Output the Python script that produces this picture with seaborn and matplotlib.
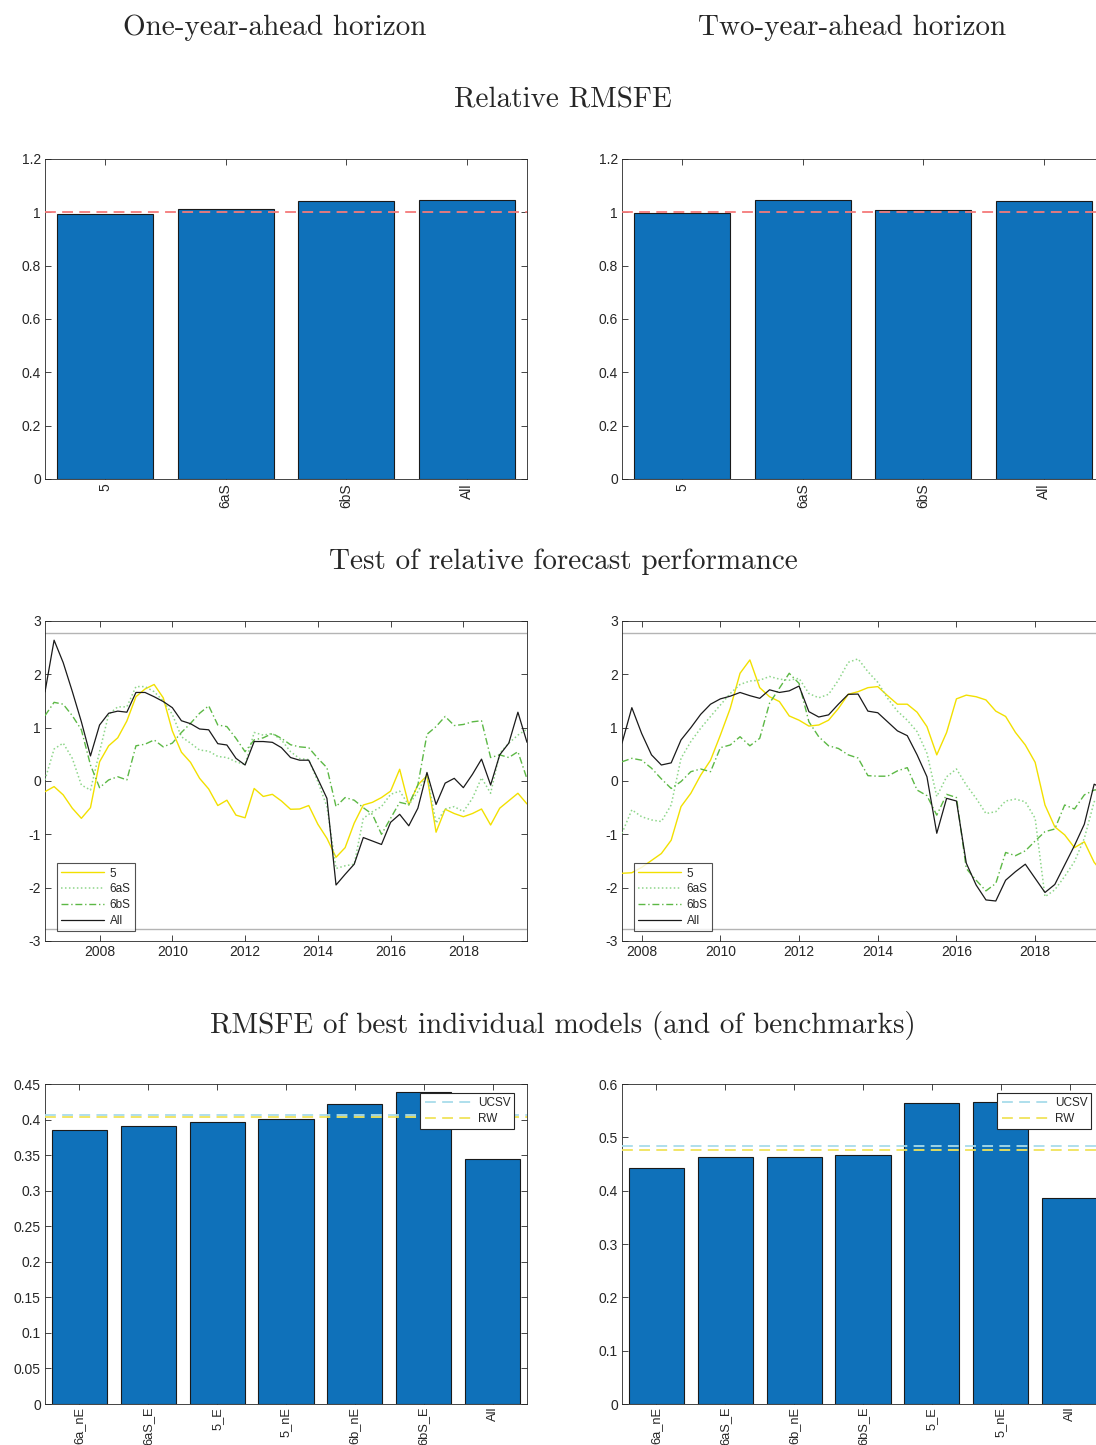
import numpy as np
import pandas as pd
import matplotlib
matplotlib.use("Agg")
import matplotlib.pyplot as plt
import seaborn as sns

# ---------------- data ----------------
models_top = ["5", "6aS", "6bS", "All"]
rel_rmsfe_h1 = [0.995, 1.014, 1.041, 1.0475]
rel_rmsfe_h2 = [0.997, 1.0475, 1.0075, 1.044]

t_h1 = np.arange(54) * 0.25 + 2006.5
t_h2 = np.arange(50) * 0.25 + 2007.5

s5_h1 = [-0.20, -0.105, -0.26, -0.51, -0.70, -0.50, 0.36, 0.66, 0.81, 1.125, 1.58, 1.725, 1.81, 1.56,
         0.94, 0.54, 0.35, 0.05, -0.15, -0.46, -0.36, -0.64, -0.69, -0.14, -0.29, -0.25, -0.375, -0.53,
         -0.525, -0.46, -0.81, -1.075, -1.43, -1.25, -0.79, -0.45, -0.40, -0.31, -0.19, 0.22, -0.45,
         -0.075, 0.10, -0.96, -0.53, -0.61, -0.67, -0.61, -0.525, -0.825, -0.51, -0.37, -0.23, -0.43]
s6aS_h1 = [0.02, 0.60, 0.71, 0.425, -0.075, -0.17, 0.55, 1.25, 1.39, 1.39, 1.77, 1.77, 1.675, 1.50,
           1.25, 0.83, 0.71, 0.58, 0.56, 0.46, 0.44, 0.36, 0.31, 0.91, 0.86, 0.89, 0.77, 0.55, 0.42,
           0.40, -0.01, -0.48, -1.64, -1.59, -1.56, -0.70, -0.575, -0.48, -0.25, -0.19, -0.45, -0.20,
           0.125, -0.79, -0.525, -0.48, -0.575, -0.325, 0.06, -0.23, 0.52, 0.71, 0.86, 0.975]
s6bS_h1 = [1.225, 1.475, 1.44, 1.225, 0.96, 0.30, -0.125, 0.02, 0.08, 0.02, 0.66, 0.69, 0.77, 0.64,
           0.71, 0.91, 1.08, 1.27, 1.41, 1.05, 1.02, 0.80, 0.55, 0.77, 0.81, 0.89, 0.80, 0.68, 0.64,
           0.625, 0.425, 0.25, -0.48, -0.31, -0.36, -0.50, -0.625, -1.0, -0.70, -0.40, -0.44, -0.075,
           0.875, 1.02, 1.21, 1.04, 1.06, 1.11, 1.13, 0.44, 0.49, 0.44, 0.55, 0.04]
sAll_h1 = [1.67, 2.64, 2.22, 1.68, 1.11, 0.47, 1.05, 1.27, 1.31, 1.29, 1.66, 1.66, 1.58, 1.49, 1.375,
           1.13, 1.075, 0.975, 0.96, 0.70, 0.675, 0.425, 0.30, 0.74, 0.74, 0.725, 0.625, 0.44, 0.39,
           0.39, 0.04, -0.325, -1.95, -1.75, -1.56, -1.06, -1.125, -1.19, -0.775, -0.625, -0.84, -0.51,
           0.16, -0.44, -0.04, 0.05, -0.125, 0.125, 0.41, -0.075, 0.49, 0.71, 1.29, 0.725]

s5_h2 = [-1.73, -1.72, -1.62, -1.49, -1.36, -1.11, -0.48, -0.23, 0.11, 0.39, 0.86, 1.36, 2.02, 2.27,
         1.75, 1.58, 1.49, 1.22, 1.14, 1.03, 1.05, 1.14, 1.36, 1.625, 1.675, 1.75, 1.77, 1.60, 1.44,
         1.44, 1.29, 1.02, 0.49, 0.91, 1.54, 1.61, 1.58, 1.52, 1.31, 1.21, 0.91, 0.675, 0.35, -0.45,
         -0.86, -1.01, -1.25, -1.14, -1.525, -1.75]
s6aS_h2 = [-0.98, -0.54, -0.67, -0.73, -0.76, -0.45, 0.425, 0.74, 0.99, 1.21, 1.425, 1.64, 1.81, 1.875,
           1.89, 1.96, 1.91, 1.89, 1.925, 1.64, 1.56, 1.625, 1.89, 2.225, 2.29, 2.05, 1.85, 1.55, 1.31,
           1.14, 0.925, 0.52, -0.29, 0.08, 0.225, -0.075, -0.325, -0.61, -0.575, -0.375, -0.34, -0.39,
           -0.70, -2.17, -2.04, -1.79, -1.51, -1.075, -0.39, -0.20]
s6bS_h2 = [0.36, 0.425, 0.39, 0.24, 0.04, -0.14, -0.01, 0.175, 0.225, 0.175, 0.625, 0.675, 0.83, 0.66,
           0.80, 1.46, 1.74, 2.02, 1.83, 1.11, 0.83, 0.66, 0.61, 0.49, 0.43, 0.10, 0.09, 0.09, 0.19,
           0.25, -0.17, -0.275, -0.64, -0.25, -0.31, -1.64, -1.86, -2.06, -1.92, -1.34, -1.40, -1.31,
           -1.125, -0.95, -0.90, -0.45, -0.525, -0.26, -0.17, -0.15]
sAll_h2 = [0.71, 1.375, 0.89, 0.49, 0.30, 0.34, 0.77, 1.0, 1.25, 1.44, 1.54, 1.59, 1.66, 1.60, 1.55,
           1.71, 1.66, 1.69, 1.78, 1.30, 1.20, 1.24, 1.44, 1.625, 1.63, 1.31, 1.28, 1.11, 0.94, 0.85,
           0.49, 0.08, -0.98, -0.325, -0.375, -1.54, -1.95, -2.23, -2.25, -1.86, -1.70, -1.56, -1.825,
           -2.09, -1.94, -1.575, -1.21, -0.81, -0.06, -0.15]
crit_value = 2.77

best_models_h1 = ["6a_nE", "6aS_E", "5_E", "5_nE", "6b_nE", "6bS_E", "All"]
best_rmsfe_h1 = [0.3858, 0.3905, 0.397, 0.4008, 0.4223, 0.4387, 0.3445]
ucsv_h1, rw_h1 = 0.4065, 0.4040
best_models_h2 = ["6a_nE", "6aS_E", "6b_nE", "6bS_E", "5_E", "5_nE", "All"]
best_rmsfe_h2 = [0.4419, 0.463, 0.4637, 0.467, 0.564, 0.567, 0.3856]
ucsv_h2, rw_h2 = 0.483, 0.4755

# ---------------- style ----------------
sns.set_theme(style="white")
plt.rcParams["font.family"] = ["Liberation Sans", "DejaVu Sans"]
plt.rcParams["axes.unicode_minus"] = False
TXT = "#262626"
BAR = "#0F71BA"
C5, C6a, C6b, CAll = "#F2E000", "#8ED68A", "#5CB845", "#1A1A1A"
TICK_FS = 10

W, H = 1096, 1445
fig = plt.figure(figsize=(W / 100, H / 100), dpi=100)

def ax_at(x0, y0, w=482, h=320):
    return fig.add_axes([x0 / W, 1 - (y0 + h) / H, w / W, h / H])

def style_axes(ax):
    for s in ax.spines.values():
        s.set_color(TXT)
        s.set_linewidth(0.6)
        s.set_visible(True)
    ax.tick_params(direction="in", length=4, width=0.6, colors=TXT, labelsize=TICK_FS,
                   top=True, right=True, bottom=True, left=True, pad=3)
    ax.set_xlabel("")
    ax.set_ylabel("")

left_x, right_x = 45, 622
row_y = [159, 621, 1084]

serif = "cmr10"
TITLE_FS = 21
fig.text(275 / W, 1 - 28 / H, "One-year-ahead horizon", family=serif, fontsize=TITLE_FS,
         ha="center", va="center", color=TXT)
fig.text(852 / W, 1 - 28 / H, "Two-year-ahead horizon", family=serif, fontsize=TITLE_FS,
         ha="center", va="center", color=TXT)
for ypix, txt in [(100, "Relative RMSFE"), (562, "Test of relative forecast performance"),
                  (1025, "RMSFE of best individual models (and of benchmarks)")]:
    fig.text(563 / W, 1 - ypix / H, txt, family=serif, fontsize=TITLE_FS, ha="center",
             va="center", color=TXT)

# ---- row 1: relative RMSFE bars ----
for x0, vals in [(left_x, rel_rmsfe_h1), (right_x, rel_rmsfe_h2)]:
    ax = ax_at(x0, row_y[0])
    df = pd.DataFrame({"model": models_top, "val": vals})
    sns.barplot(data=df, x="model", y="val", ax=ax, color=BAR, saturation=1, width=0.8,
                edgecolor="#1a1a1a", linewidth=0.8)
    ax.axhline(1.0, color="#F47A7A", linestyle=(0, (6, 3.5)), linewidth=1.3, zorder=5)
    ax.set_xlim(-0.5, len(models_top) - 0.5)
    ax.set_ylim(0, 1.2)
    ax.set_yticks(np.arange(0, 1.21, 0.2))
    ax.set_yticklabels([f"{v:g}" for v in np.round(np.arange(0, 1.21, 0.2), 1)])
    style_axes(ax)
    ax.tick_params(axis="x", labelrotation=90)

# ---- row 2: test statistics ----
for x0, t, series, xl in [
    (left_x, t_h1, (s5_h1, s6aS_h1, s6bS_h1, sAll_h1), (2006.5, 2019.75)),
    (right_x, t_h2, (s5_h2, s6aS_h2, s6bS_h2, sAll_h2), (2007.5, 2019.75)),
]:
    ax = ax_at(x0, row_y[1])
    ax.axhline(crit_value, color="#B4B4B4", linewidth=1.0, zorder=1)
    ax.axhline(-crit_value, color="#B4B4B4", linewidth=1.0, zorder=1)
    specs = [("5", C5, "-", 1.0), ("6aS", C6a, (0, (1, 1.6)), 1.1),
             ("6bS", C6b, (0, (5, 2, 1, 2)), 1.0), ("All", CAll, "-", 0.9)]
    for (lab, col, ls, lw), y in zip(specs, series):
        sns.lineplot(x=t, y=y, ax=ax, color=col, linestyle=ls, linewidth=lw, label=lab,
                     zorder=3)
    ax.set_xlim(*xl)
    ax.set_ylim(-3, 3)
    ax.set_xticks(np.arange(2008, 2019, 2))
    ax.set_xticklabels([str(v) for v in range(2008, 2019, 2)])
    ax.set_yticks(np.arange(-3, 4, 1))
    ax.set_yticklabels([str(v) for v in range(-3, 4)])
    style_axes(ax)
    leg = ax.legend(loc="lower left", bbox_to_anchor=(0.025, 0.031), borderaxespad=0,
                    fontsize=8.5, frameon=True, fancybox=False, handlelength=3.6,
                    labelspacing=0.32, borderpad=0.35, handletextpad=0.5)
    leg.get_frame().set_edgecolor(TXT)
    leg.get_frame().set_linewidth(0.8)
    for txt in leg.get_texts():
        txt.set_color(TXT)

# ---- row 3: best individual models ----
for x0, cats, vals, uc, rw, ylim, step in [
    (left_x, best_models_h1, best_rmsfe_h1, ucsv_h1, rw_h1, 0.45, 0.05),
    (right_x, best_models_h2, best_rmsfe_h2, ucsv_h2, rw_h2, 0.6, 0.1),
]:
    ax = ax_at(x0, row_y[2])
    df = pd.DataFrame({"model": cats, "val": vals})
    sns.barplot(data=df, x="model", y="val", ax=ax, color=BAR, saturation=1, width=0.8,
                edgecolor="#1a1a1a", linewidth=0.8)
    l1 = ax.axhline(uc, color="#A8DCEB", linestyle=(0, (6, 3.5)), linewidth=1.3, zorder=5,
                    label="UCSV")
    l2 = ax.axhline(rw, color="#F0E35A", linestyle=(0, (6, 3.5)), linewidth=1.3, zorder=5,
                    label="RW")
    ax.set_xlim(-0.5, len(cats) - 0.5)
    ax.set_ylim(0, ylim)
    ticks = np.round(np.arange(0, ylim + 1e-9, step), 2)
    ax.set_yticks(ticks)
    ax.set_yticklabels([f"{v:g}" for v in ticks])
    style_axes(ax)
    ax.tick_params(axis="x", labelrotation=90, labelsize=9.3, pad=2)
    leg = ax.legend(handles=[l1, l2], loc="upper right", bbox_to_anchor=(0.974, 0.972),
                    borderaxespad=0, fontsize=8.5, frameon=True, fancybox=False,
                    handlelength=4.0, labelspacing=0.35, borderpad=0.35, handletextpad=0.5,
                    framealpha=1)
    leg.get_frame().set_edgecolor(TXT)
    leg.get_frame().set_linewidth(0.8)
    leg.set_zorder(10)
    for txt in leg.get_texts():
        txt.set_color(TXT)

fig.savefig("out.png", dpi=100)
